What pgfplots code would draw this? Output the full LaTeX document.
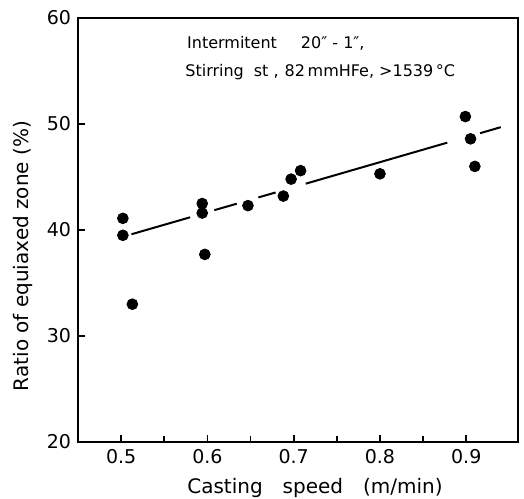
\documentclass[border=0pt]{standalone}
\usepackage{fontspec}
\setmainfont{DejaVu Sans}
\usepackage{pgfplots}
\pgfplotsset{compat=1.18}

\begin{document}
\begin{tikzpicture}
\useasboundingbox (-39pt,-28pt) rectangle (223pt,221pt);
\begin{axis}[
  scale only axis,
  width=220pt, height=212pt,
  xmin=0.45, xmax=0.96, ymin=20, ymax=60,
  xtick={0.5,0.6,0.7,0.8,0.9},
  minor xtick={0.55,0.65,0.75,0.85},
  ytick={20,30,40,50,60},
  xticklabels={0.5,0.6,0.7,0.8,0.9},
  xtick pos=left, ytick pos=left,
  tick align=inside,
  major tick length=3.5pt, minor tick length=3pt,
  tick style={line width=0.9pt,black},
  axis line style={line width=1pt},
  tick label style={font=\fontsize{9.5}{11}\selectfont},
  /pgf/number format/assume math mode=true,
  clip=false,
]
% measured points
\addplot[only marks, mark=*, mark size=2.7pt, black] coordinates {
  (0.502,41.1) (0.502,39.5) (0.513,33.0)
  (0.594,42.5) (0.594,41.6) (0.597,37.7)
  (0.647,42.3)
  (0.688,43.2) (0.697,44.8) (0.708,45.6)
  (0.800,45.3)
  (0.899,50.7) (0.905,48.6) (0.910,46.0)
};
% fitted line, broken where it meets the dots
\addplot[black, line width=1pt] coordinates {(0.512,39.60) (0.580,41.20)};
\addplot[black, line width=1pt] coordinates {(0.608,41.87) (0.634,42.48)};
\addplot[black, line width=1pt] coordinates {(0.659,43.07) (0.679,43.54)};
\addplot[black, line width=1pt] coordinates {(0.714,44.37) (0.878,48.24)};
\addplot[black, line width=1pt] coordinates {(0.916,49.13) (0.940,49.70)};

\node[anchor=west, font=\fontsize{8}{10}\selectfont] at (rel axis cs:0.232,0.941)
  {Intermitent\hspace{12pt}20″ - 1″,};
\node[anchor=west, font=\fontsize{8}{10}\selectfont] at (rel axis cs:0.228,0.873)
  {Stirring\hspace{5pt}st ,\hspace{3pt}82\,mmHFe, >1539\,°C};
\end{axis}
\node[font=\fontsize{10}{12}\selectfont] at (118.5pt,-23pt)
  {Casting\hspace{1em}speed\hspace{1em}(m/min)};
\node[rotate=90, font=\fontsize{10}{12}\selectfont] at (-27.5pt,93pt)
  {Ratio of equiaxed zone (\%)};
\end{tikzpicture}
\end{document}
